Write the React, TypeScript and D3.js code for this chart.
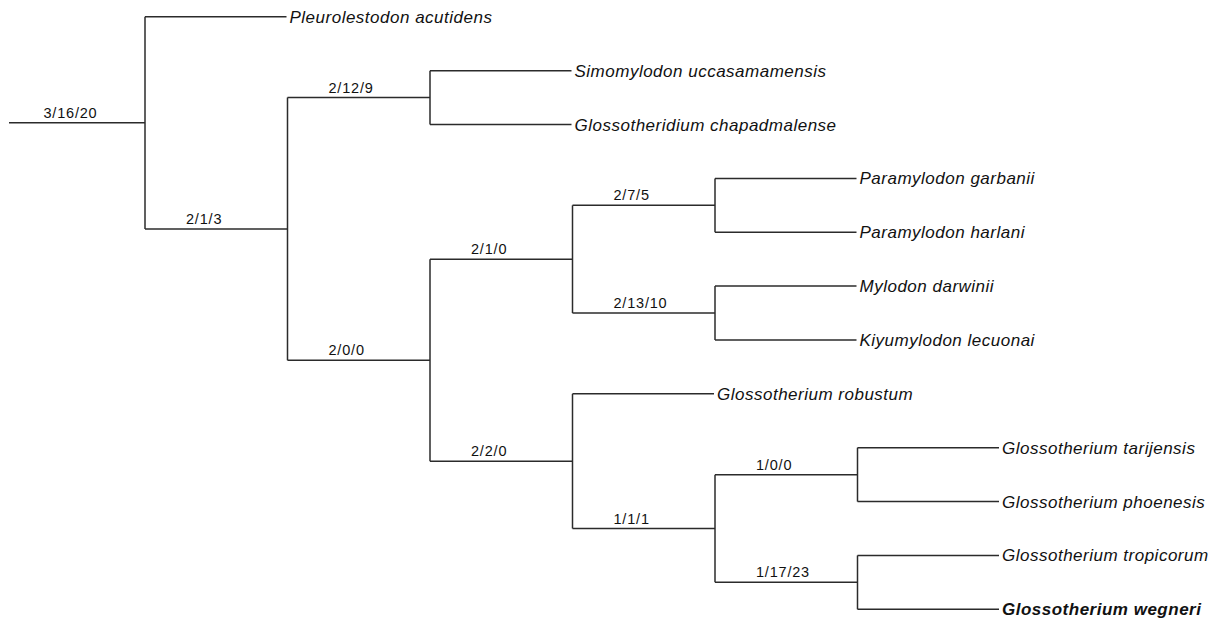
import { useMemo } from "react";
import * as d3 from "d3";

const WIDTH = 1225;
const HEIGHT = 621;

// leaf names, top to bottom
const taxa = [
  "Pleurolestodon acutidens",
  "Simomylodon uccasamamensis",
  "Glossotheridium chapadmalense",
  "Paramylodon garbanii",
  "Paramylodon harlani",
  "Mylodon darwinii",
  "Kiyumylodon lecuonai",
  "Glossotherium robustum",
  "Glossotherium tarijensis",
  "Glossotherium phoenesis",
  "Glossotherium tropicorum",
  "Glossotherium wegneri",
];

// clade labels, internal nodes in preorder
const supports = [
  "3/16/20",
  "2/1/3",
  "2/12/9",
  "2/0/0",
  "2/1/0",
  "2/7/5",
  "2/13/10",
  "2/2/0",
  "1/1/1",
  "1/0/0",
  "1/17/23",
];

// tree shape, numbers are indexes into taxa
const topology = [0, [[1, 2], [[[3, 4], [5, 6]], [7, [[8, 9], [10, 11]]]]]];

const highlighted = ["Glossotherium wegneri"];

const FONT = "'Liberation Sans', Arial, Helvetica, sans-serif";
const STROKE = "#2b2b2b";

export default function App() {
  const nodes = useMemo(() => {
    const root = d3.hierarchy<any>(topology, (d) => (Array.isArray(d) ? d : null));
    const x = d3.scaleLinear().domain([0, 6]).range([145, 1000]);
    const y = d3.scaleLinear().domain([0, taxa.length - 1]).range([16.8, 609.3]);

    let k = 0;
    root.eachBefore((n: any) => {
      if (n.children) n.label = supports[k++];
    });
    root.eachAfter((n: any) => {
      n.px = x(n.depth);
      if (n.children) {
        n.py = (n.children[0].py + n.children[n.children.length - 1].py) / 2;
      } else {
        n.py = y(n.data);
        n.name = taxa[n.data];
      }
    });
    return { root, x };
  }, []);

  const { root, x } = nodes;
  const all: any[] = root.descendants();
  const step = x(1) - x(0);

  return (
    <svg
      width={WIDTH}
      height={HEIGHT}
      style={{ position: "absolute", left: 0, top: 0, background: "#fff" }}
    >
      {/* root stub */}
      <line x1={9} x2={(root as any).px} y1={(root as any).py} y2={(root as any).py} stroke={STROKE} strokeWidth={1.5} />
      {all.map((n, i) => {
        const parts = [];
        if (n.children) {
          const first = n.children[0];
          const last = n.children[n.children.length - 1];
          parts.push(
            <line key="v" x1={n.px} x2={n.px} y1={first.py} y2={last.py} stroke={STROKE} strokeWidth={1.5} />
          );
          n.children.forEach((c: any, j: number) => {
            const end = c.children ? c.px : c.px - 1;
            parts.push(
              <line key={"h" + j} x1={n.px} x2={end} y1={c.py} y2={c.py} stroke={STROKE} strokeWidth={1.5} />
            );
          });
        }
        if (n.label) {
          parts.push(
            <text
              key="l"
              x={n.px - step + 41}
              y={n.py - 5}
              fontFamily={FONT}
              fontSize={14.5}
              letterSpacing={0.8}
              fill="#111"
            >
              {n.label}
            </text>
          );
        }
        if (n.name) {
          parts.push(
            <text
              key="n"
              x={n.px + 2}
              y={n.py + 6}
              fontFamily={FONT}
              fontSize={17}
              fontStyle="italic"
              fontWeight={highlighted.includes(n.name) ? "bold" : "normal"}
              letterSpacing={0.5}
              fill="#111"
            >
              {n.name}
            </text>
          );
        }
        return <g key={i}>{parts}</g>;
      })}
    </svg>
  );
}
